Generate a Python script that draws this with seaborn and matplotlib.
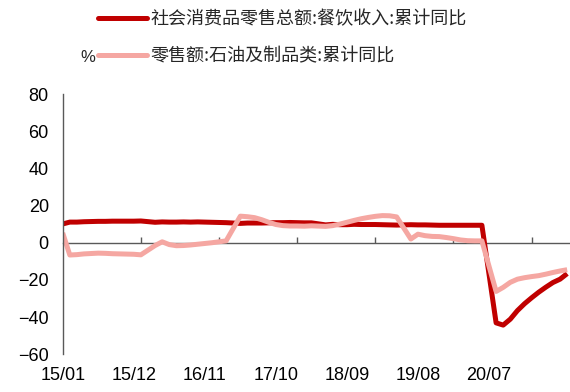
import numpy as np
import pandas as pd
import matplotlib
matplotlib.use("Agg")
import matplotlib.pyplot as plt
import seaborn as sns
from matplotlib.lines import Line2D

sns.set_style("white")
plt.rcParams['font.family'] = ['Liberation Sans', 'Noto Sans CJK SC', 'DejaVu Sans']

nan = np.nan
months = pd.period_range('2015-01', '2020-12', freq='M')
tick_labels = ['15/01', '15/12', '16/11', '17/10', '18/09', '19/08', '20/07']

series_names = ['社会消费品零售总额:餐饮收入:累计同比', '零售额:石油及制品类:累计同比']

catering = [
    10.1, 11.1, 11.1, 11.3, 11.4, 11.5, 11.5, 11.6, 11.6, 11.6, 11.6, 11.7,
    nan, 11.0, 11.2, 11.1, 11.1, 11.2, 11.1, 11.2, 11.1, 11.0, 10.9, 10.8,
    nan, 10.4, 10.6, 10.6, 10.6, 10.7, 10.8, 10.8, 10.9, 10.8, 10.7, 10.7,
    nan, 9.6, 9.9, 9.7, 9.7, 9.9, 9.8, 9.8, 9.8, 9.7, 9.6, 9.5,
    nan, 9.7, 9.6, 9.6, 9.5, 9.4, 9.4, 9.4, 9.4, 9.4, 9.4, 9.4,
    nan, -43.1, -44.3, -41.1, -36.5, -32.8, -29.6, -26.6, -23.9, -21.4, -19.6, -16.6,
]
petroleum = [
    5.3, -6.6, -6.4, -6.0, -5.8, -5.6, -5.7, -5.9, -6.0, -6.1, -6.2, -6.5,
    nan, -1.5, 0.5, -1.0, -1.6, -1.5, -1.2, -0.8, -0.4, 0.0, 0.5, 1.0,
    nan, 14.3, 14.0, 13.5, 12.4, 11.0, 9.8, 9.2, 9.0, 9.0, 8.9, 9.1,
    nan, 8.8, 9.2, 10.0, 11.0, 12.0, 12.9, 13.6, 14.2, 14.6, 14.5, 13.9,
    nan, 2.0, 4.6, 3.8, 3.4, 3.3, 2.8, 2.2, 1.5, 1.1, 1.0, 1.0,
    nan, -26.2, -24.0, -21.3, -19.6, -18.8, -18.2, -17.7, -16.9, -16.0, -15.2, -14.5,
]

colors = ['#C00000', '#F5A7A2']

idx = np.arange(len(months))
df = pd.concat([
    pd.DataFrame({'idx': idx, 'month': months.astype(str), 'value': catering, 'series': series_names[0]}),
    pd.DataFrame({'idx': idx, 'month': months.astype(str), 'value': petroleum, 'series': series_names[1]}),
]).dropna()

fig = plt.figure(figsize=(5.7, 3.92), dpi=100)
ax = fig.add_axes([0.110, 0.0962, 0.890, 0.664])

sns.lineplot(data=df, x='idx', y='value', hue='series', hue_order=series_names,
             palette=colors, linewidth=3.6, ax=ax, legend=False, sort=True,
             estimator=None)
for ln in ax.get_lines():
    ln.set_solid_joinstyle('round')
    ln.set_solid_capstyle('butt')

ax.set_xlim(0, 71.4)
ax.set_ylim(-60, 80)
ax.set_yticks(np.arange(-60, 81, 20))
ax.set_xlabel('')
ax.set_ylabel('')

axis_color = '#595959'
for s in ['top', 'right', 'bottom']:
    ax.spines[s].set_visible(False)
ax.spines['left'].set_color(axis_color)
ax.spines['left'].set_linewidth(1.0)

ax.tick_params(axis='y', direction='in', length=4, width=1, color=axis_color,
               labelsize=13, labelcolor='black', pad=10)
ax.set_xticks(np.arange(0, 61, 10))
ax.set_xticklabels(tick_labels)
ax.tick_params(axis='x', length=0, labelsize=13, labelcolor='black', pad=9)

zero_ax = ax.secondary_xaxis(0, transform=ax.transData)
zero_ax.spines['bottom'].set_color(axis_color)
zero_ax.spines['bottom'].set_linewidth(1.0)
zero_ax.set_xticks(np.arange(11, 72, 11))
zero_ax.tick_params(axis='x', direction='in', length=4, width=1, color=axis_color,
                    labelbottom=False)

handles = [Line2D([], [], color=c, linewidth=3.6) for c in colors]
fig.legend(handles, series_names, loc='upper left', bbox_to_anchor=(0.143, 1.016),
           frameon=False, handlelength=2.75, handletextpad=0.15,
           labelspacing=1.05, prop={'family': ['Noto Sans CJK SC', 'DejaVu Sans'], 'size': 13})
fig.text(88 / 570, 1 - 57 / 392, '%', fontsize=12, ha='center', va='center')

fig.savefig('out.png', dpi=100)
